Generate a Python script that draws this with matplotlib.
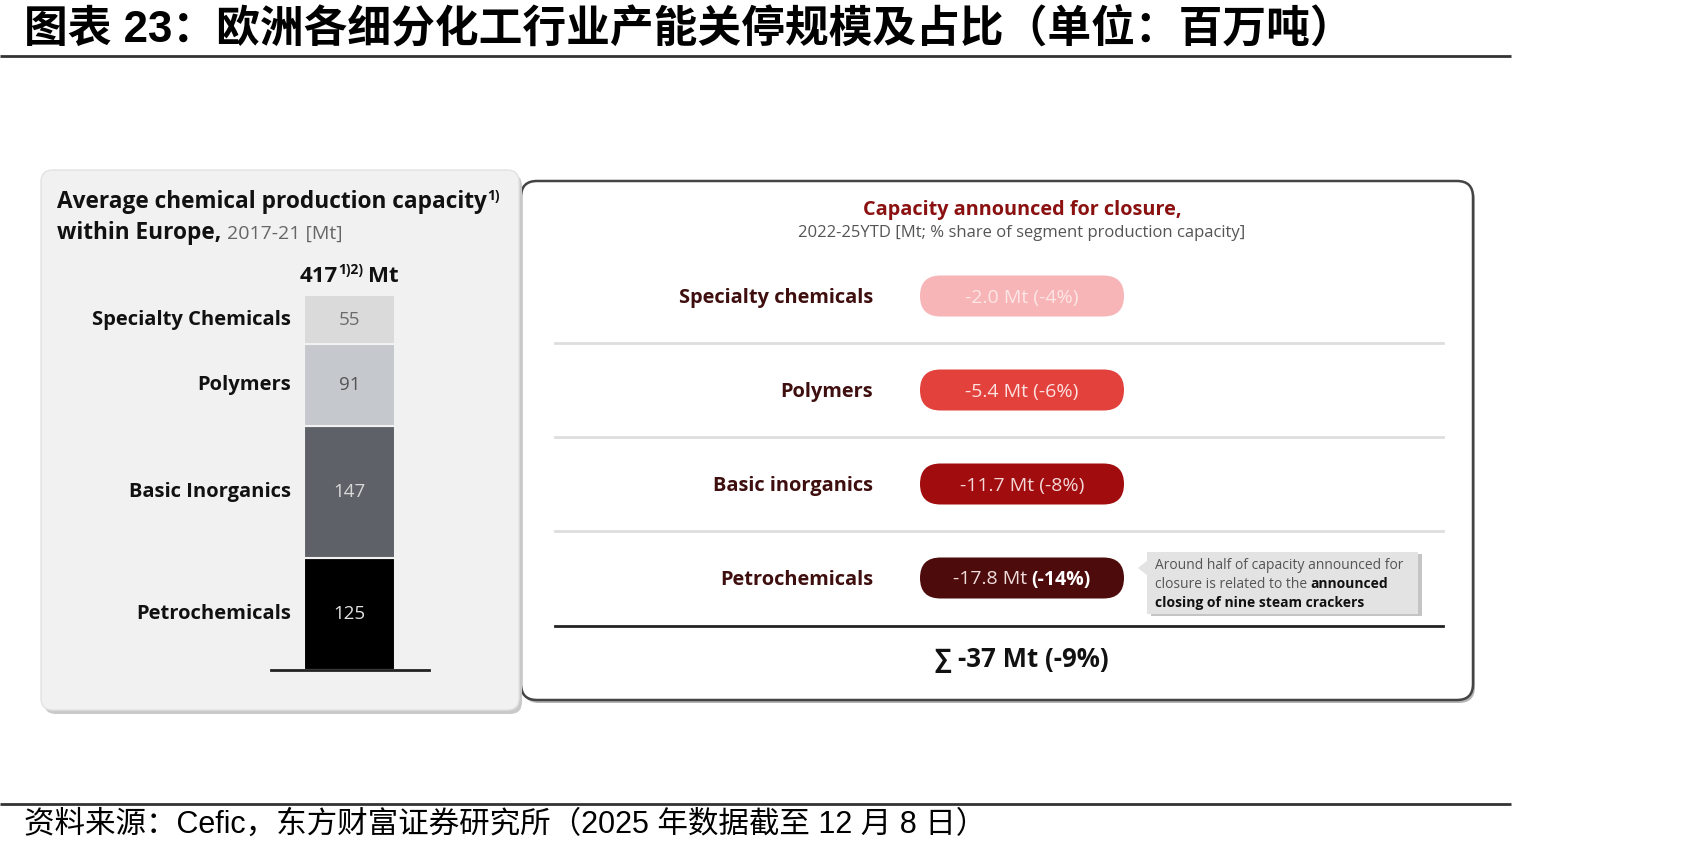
import matplotlib
matplotlib.use('Agg')
import matplotlib.pyplot as plt
from matplotlib.patches import FancyBboxPatch, Polygon

W, H = 1701, 856

# left panel: average capacity 2017-21 [Mt], stacked from the bottom
segments = ['Petrochemicals', 'Basic Inorganics', 'Polymers', 'Specialty Chemicals']
capacity = [125, 147, 91, 55]
total_capacity = '417'
seg_colors = ['#000000', '#5e6268', '#c5c8cc', '#dadada']
seg_text_colors = ['#e2e2e2', '#d8d8d8', '#555555', '#6a6a6a']

# right panel: capacity announced for closure 2022-25YTD
closure_labels = ['Specialty chemicals', 'Polymers', 'Basic inorganics', 'Petrochemicals']
closure_mt = [-2.0, -5.4, -11.7, -17.8]
closure_pct = [-4, -6, -8, -14]
pill_colors = ['#f8b5b7', '#e2413c', '#a10d0f', '#4e0b0b']
pill_text_colors = ['#fde6e6', '#fde0e0', '#f3d6d6', '#efdcdc']
total_mt = -37
total_pct = -9

SANS = ['Open Sans', 'DejaVu Sans']
NARROW = ['Liberation Sans Narrow', 'Open Sans', 'DejaVu Sans']
CJK = ['Liberation Sans', 'Noto Sans CJK SC']

fig = plt.figure(figsize=(W / 100, H / 100), dpi=100)
fig.patch.set_facecolor('white')
ax = fig.add_axes([0, 0, 1, 1])
ax.set_xlim(0, W)
ax.set_ylim(H, 0)
ax.axis('off')
renderer = fig.canvas.get_renderer()


def put(parts, x, y, ha='left'):
    # lay out several text pieces on one baseline
    ts, ws = [], []
    for p in parts:
        s, kw = p[0], dict(p[1])
        extra = p[2] if len(p) > 2 else {}
        t = ax.text(0, y + extra.get('dy', 0), s, ha='left', va='baseline', **kw)
        ts.append(t)
        ws.append(t.get_window_extent(renderer).width + extra.get('gap', 0))
    tot = sum(ws)
    x0 = x - tot / 2 if ha == 'center' else (x - tot if ha == 'right' else x)
    for t, w in zip(ts, ws):
        t.set_x(x0)
        x0 += w
    return ts


# title + rules
ax.text(24, 29, '图表 23：欧洲各细分化工行业产能关停规模及占比（单位：百万吨）',
        family=CJK, fontsize=31.5, fontweight='bold', va='center', ha='left', color='#000')
ax.plot([0, 1511], [56, 56], color='#333', lw=2, solid_capstyle='butt')
ax.plot([0, 1511], [804, 804], color='#333', lw=2, solid_capstyle='butt')
ax.text(24, 825, '资料来源：Cefic，东方财富证券研究所（2025 年数据截至 12 月 8 日）',
        family=CJK, fontsize=22, va='center', ha='left', color='#000')

# right panel box
ax.add_patch(FancyBboxPatch((523, 184), 952, 519, boxstyle='round,pad=0,rounding_size=16',
                            fc='#b5b5b5', ec='none', zorder=1))
ax.add_patch(FancyBboxPatch((521, 181), 952, 519, boxstyle='round,pad=0,rounding_size=16',
                            fc='white', ec='#444444', lw=1.8, zorder=2))
# left panel box
ax.add_patch(FancyBboxPatch((44, 174), 478, 540, boxstyle='round,pad=0,rounding_size=12',
                            fc='#c9c9c9', ec='none', zorder=3))
ax.add_patch(FancyBboxPatch((41, 170), 478, 540, boxstyle='round,pad=0,rounding_size=12',
                            fc='#f1f1f1', ec='#e2e2e2', lw=1, zorder=4))

# left panel headings
put([('Average chemical production capacity', dict(family=SANS, fontsize=16.3, fontweight='bold', color='#111', zorder=5)),
     ('1)', dict(family=SANS, fontsize=10, fontweight='bold', color='#111', zorder=5), {'dy': -8})],
    57, 208)
put([('within Europe,', dict(family=SANS, fontsize=16.3, fontweight='bold', color='#111', zorder=5), {'gap': 6}),
     ('2017-21 [Mt]', dict(family=SANS, fontsize=14, color='#666', zorder=5))],
    57, 239)
put([(total_capacity, dict(family=SANS, fontsize=16, fontweight='bold', color='#111', zorder=5), {'gap': 0}),
     ('1)2)', dict(family=SANS, fontsize=10, fontweight='bold', color='#111', zorder=5), {'dy': -8, 'gap': 5}),
     ('Mt', dict(family=SANS, fontsize=16, fontweight='bold', color='#111', zorder=5))],
    349, 282, ha='center')

# stacked bar
axb = fig.add_axes([271 / W, (H - 670.4) / H, 157.5 / W, 375.4 / H])
axb.patch.set_alpha(0)
axb.set_zorder(5)
bottom = 0
for name, v, c, tc in zip(segments, capacity, seg_colors, seg_text_colors):
    axb.bar(0.5, v, width=0.58, bottom=bottom, color=c, edgecolor='#f1f1f1', linewidth=1.5)
    mid = bottom + v / 2
    axb.text(0.5, mid, str(v), ha='center', va='center', family=SANS, fontsize=13.5, color=tc)
    axb.text(0.125, mid, name, ha='right', va='center', family=SANS, fontsize=14.5,
             fontweight='bold', color='#111', transform=axb.get_yaxis_transform(), clip_on=False)
    bottom += v
axb.set_xlim(0, 1)
axb.set_ylim(0, sum(capacity))
for s in ['top', 'left', 'right']:
    axb.spines[s].set_visible(False)
axb.spines['bottom'].set_linewidth(2)
axb.spines['bottom'].set_color('#222')
axb.set_xticks([])
axb.set_yticks([])

# right panel heading
cx = 942 * 1.0848
put([('Capacity announced for closure,', dict(family=NARROW, fontsize=14.3, fontweight='bold', color='#8b1111', zorder=5))],
    cx, 215, ha='center')
ax.text(cx, 233, '2022-25YTD [Mt; % share of segment production capacity]', family=NARROW,
        fontsize=12, color='#555', ha='center', va='center', zorder=5)

row_y0, row_step = 296, 94
pill_x, pill_w, pill_h = 920, 204, 41
for i, (lab, mt, pct, pc, tc) in enumerate(zip(closure_labels, closure_mt, closure_pct,
                                               pill_colors, pill_text_colors)):
    y = row_y0 + i * row_step
    put([(lab, dict(family=NARROW, fontsize=14.4, fontweight='bold', color='#3f0e0e', zorder=5))],
        873, y + 7, ha='right')
    ax.add_patch(FancyBboxPatch((pill_x, y - pill_h / 2), pill_w, pill_h,
                                boxstyle='round,pad=0,rounding_size=20.5', fc=pc, ec='none', zorder=5))
    if i == len(closure_labels) - 1:
        put([(f'{mt:.1f} Mt', dict(family=NARROW, fontsize=14, color=tc, zorder=6), {'gap': 4}),
             (f'({pct}%)', dict(family=NARROW, fontsize=14, fontweight='bold', color='white', zorder=6))],
            pill_x + pill_w / 2, y + 6.5, ha='center')
    else:
        put([(f'{mt:.1f} Mt ({pct}%)', dict(family=NARROW, fontsize=14, color=tc, zorder=6))],
            pill_x + pill_w / 2, y + 6.5, ha='center')
    if i < len(closure_labels) - 1:
        ax.plot([555, 1443], [y + 47, y + 47], color='#dedede', lw=2, zorder=5)
    else:
        ax.plot([555, 1443], [y + 48, y + 48], color='#222', lw=2, zorder=5)

put([(f'∑ {total_mt} Mt ({total_pct}%)', dict(family=NARROW + ['DejaVu Sans'], fontsize=18.5,
                                               fontweight='bold', color='#111', zorder=5))],
    cx, 667, ha='center')

# callout
ax.add_patch(FancyBboxPatch((1151, 554), 271, 62, boxstyle='square,pad=0', fc='#c4c4c4', ec='none', zorder=5))
ax.add_patch(FancyBboxPatch((1147, 552), 271, 62, boxstyle='square,pad=0', fc='#e3e3e3', ec='none', zorder=6))
ax.add_patch(Polygon([[1148, 560], [1138, 568], [1148, 576]], closed=True, fc='#e3e3e3', ec='none', zorder=6))
note = dict(family=NARROW, fontsize=10, color='#555', zorder=7)
noteb = dict(family=NARROW, fontsize=10, fontweight='bold', color='#111', zorder=7)
put([('Around half of capacity announced for', note)], 1155, 569)
put([('closure is related to the', note, {'gap': 3}), ('announced', noteb)], 1155, 588)
put([('closing of nine steam crackers', noteb)], 1155, 607)

fig.savefig('out.png', dpi=100, facecolor='white')
